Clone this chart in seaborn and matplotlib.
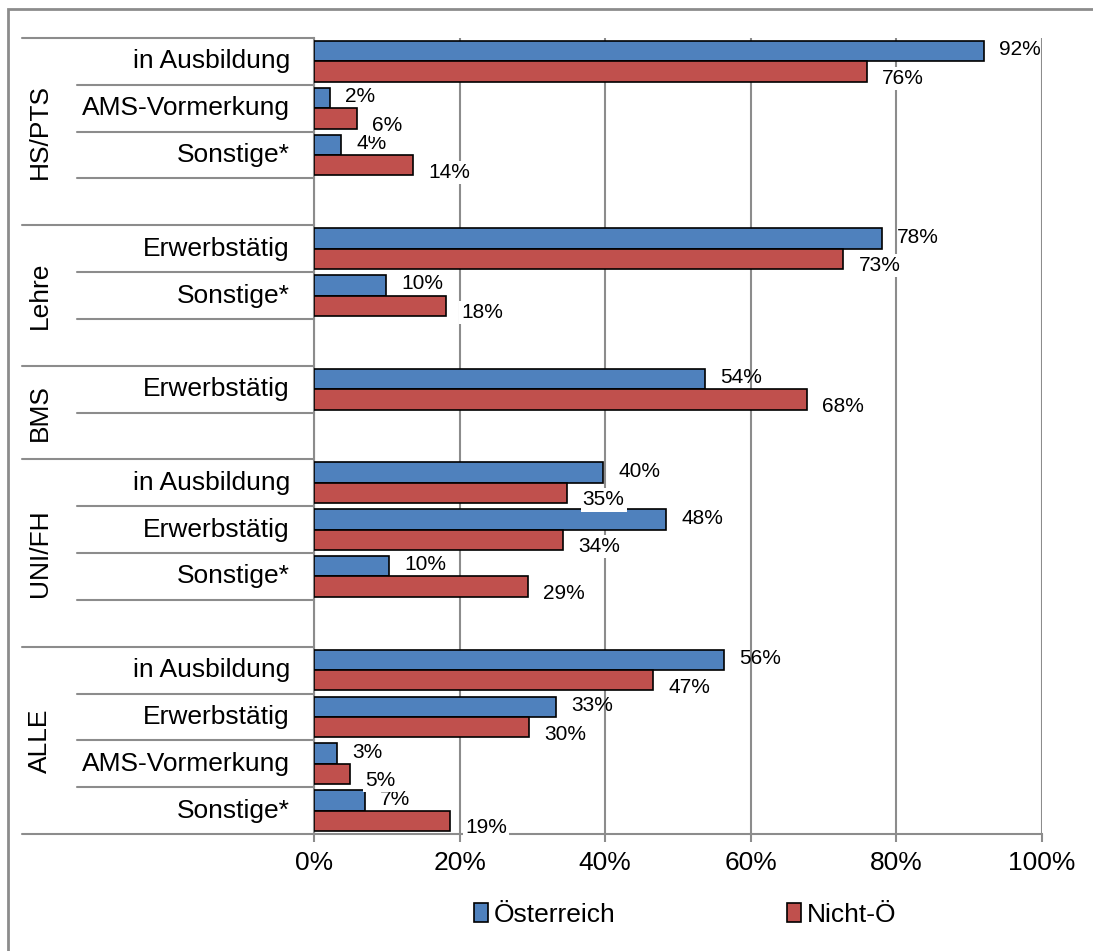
import numpy as np
import pandas as pd
import matplotlib
matplotlib.use("Agg")
import matplotlib.pyplot as plt
import matplotlib.transforms as mtransforms
from matplotlib.patches import Rectangle
import seaborn as sns

# Daten
groups = ["HS/PTS", "Lehre", "BMS", "UNI/FH", "ALLE"]
group_cats = [
    ["in Ausbildung", "AMS-Vormerkung", "Sonstige*", ""],
    ["Erwerbstätig", "Sonstige*", ""],
    ["Erwerbstätig", ""],
    ["in Ausbildung", "Erwerbstätig", "Sonstige*", ""],
    ["in Ausbildung", "Erwerbstätig", "AMS-Vormerkung", "Sonstige*"],
]
oesterreich = [92.0, 2.2, 3.7, 78.0, 9.9, 53.7, 39.7, 48.4, 10.3, 56.3, 33.2, 3.2, 7.0]
nicht_oe = [75.9, 5.9, 13.6, 72.7, 18.1, 67.7, 34.8, 34.2, 29.4, 46.6, 29.5, 4.9, 18.7]
series = ["Österreich", "Nicht-Ö"]
colors = ["#4F81BD", "#C0504D"]

# Slots aufbauen (leere Zeilen ohne Balken)
order, inner_labels, rows = [], [], []
k = 0
for g, cats in zip(groups, group_cats):
    for j, c in enumerate(cats):
        key = f"{g}|{j}"
        order.append(key)
        inner_labels.append(c)
        if c != "":
            rows.append((key, series[0], oesterreich[k]))
            rows.append((key, series[1], nicht_oe[k]))
            k += 1
df = pd.DataFrame(rows, columns=["slot", "Gruppe", "Anteil"])

sns.set_theme(style="white")
plt.rcParams["font.family"] = ["Liberation Sans", "DejaVu Sans"]
plt.rcParams["text.color"] = "black"
plt.rcParams["xtick.color"] = "black"

fig = plt.figure(figsize=(10.93, 9.51), dpi=100)
ax = fig.add_axes([314 / 1093, 1 - 834 / 951, (1042 - 314) / 1093, (834 - 38) / 951])

sns.barplot(data=df, y="slot", x="Anteil", hue="Gruppe", order=order,
            hue_order=series, palette=colors, saturation=1, orient="h", width=0.87,
            errorbar=None, edgecolor="black", linewidth=1.2, ax=ax, zorder=3,
            legend=False)

grey = "#8C8C8C"
ax.set_xlim(0, 100)
ax.set_ylim(len(order) - 0.5, -0.5)
ax.set_xticks(np.arange(0, 101, 20))
ax.set_xticklabels([f"{v}%" for v in range(0, 101, 20)], fontsize=19)
ax.tick_params(axis="x", direction="out", length=6, width=1.5, color=grey,
               labelcolor="black", pad=6, bottom=True)
ax.set_yticks([])
ax.set_xlabel("")
ax.set_ylabel("")
ax.grid(axis="x", color=grey, linewidth=1.5, zorder=0)
ax.set_axisbelow(True)
for s in ["top", "right"]:
    ax.spines[s].set_visible(False)
for s in ["left", "bottom"]:
    ax.spines[s].set_color(grey)
    ax.spines[s].set_linewidth(1.5)

# Datenbeschriftungen
for ci, cont in enumerate(ax.containers):
    for bar in cont:
        w = bar.get_width()
        if np.isnan(w):
            continue
        yc = bar.get_y() + bar.get_height() / 2
        if ci == 0:
            ax.annotate(f"{w:.0f}%", (w, yc), xytext=(11, 1), textcoords="offset points",
                        ha="left", va="center", fontsize=15, color="black", zorder=5)
        else:
            ax.annotate(f"{w:.0f}%", (w, yc), xytext=(11, -5), textcoords="offset points",
                        ha="left", va="center", fontsize=15, color="black", zorder=6,
                        bbox=dict(boxstyle="square,pad=0.1", fc="white", ec="none"))

# Mehrstufige Kategorienachse
trans = mtransforms.blended_transform_factory(ax.transAxes, ax.transData)
x_inner = (77 - 314) / (1042 - 314)
x_outer = (22 - 314) / (1042 - 314)
for i, lab in enumerate(inner_labels):
    ax.text(-0.033, i, lab, transform=trans, ha="right", va="center", fontsize=19)
start = 0
for g, cats in zip(groups, group_cats):
    end = start + len(cats)
    for b in range(start + 1, end):
        ax.plot([x_inner, 0], [b - 0.5, b - 0.5], transform=trans, color=grey,
                lw=1.5, clip_on=False)
    ax.plot([x_outer, 0], [end - 0.5, end - 0.5], transform=trans, color=grey,
            lw=1.5, clip_on=False)
    ax.text((40 - 314) / (1042 - 314), (start + end - 1) / 2, g, transform=trans,
            rotation=90, ha="center", va="center", fontsize=19)
    start = end
ax.plot([x_outer, 0], [-0.5, -0.5], transform=trans, color=grey, lw=1.5, clip_on=False)

# Legende
handles = [Rectangle((0, 0), 1, 1, fc=c, ec="black", lw=1.2) for c in colors]
fig.legend(handles, series, loc="center", bbox_to_anchor=(685 / 1093, 1 - 915 / 951),
           ncol=2, frameon=False, fontsize=19, handlelength=0.55, handleheight=0.75,
           handletextpad=0.2, columnspacing=6.5)

# Rahmen
fig.patches.append(Rectangle((8 / 1093, -0.05), 1.2, 1 - 9 / 951 + 0.05,
                             transform=fig.transFigure, fill=False, ec=grey, lw=2))

fig.savefig("out.png", dpi=100)
